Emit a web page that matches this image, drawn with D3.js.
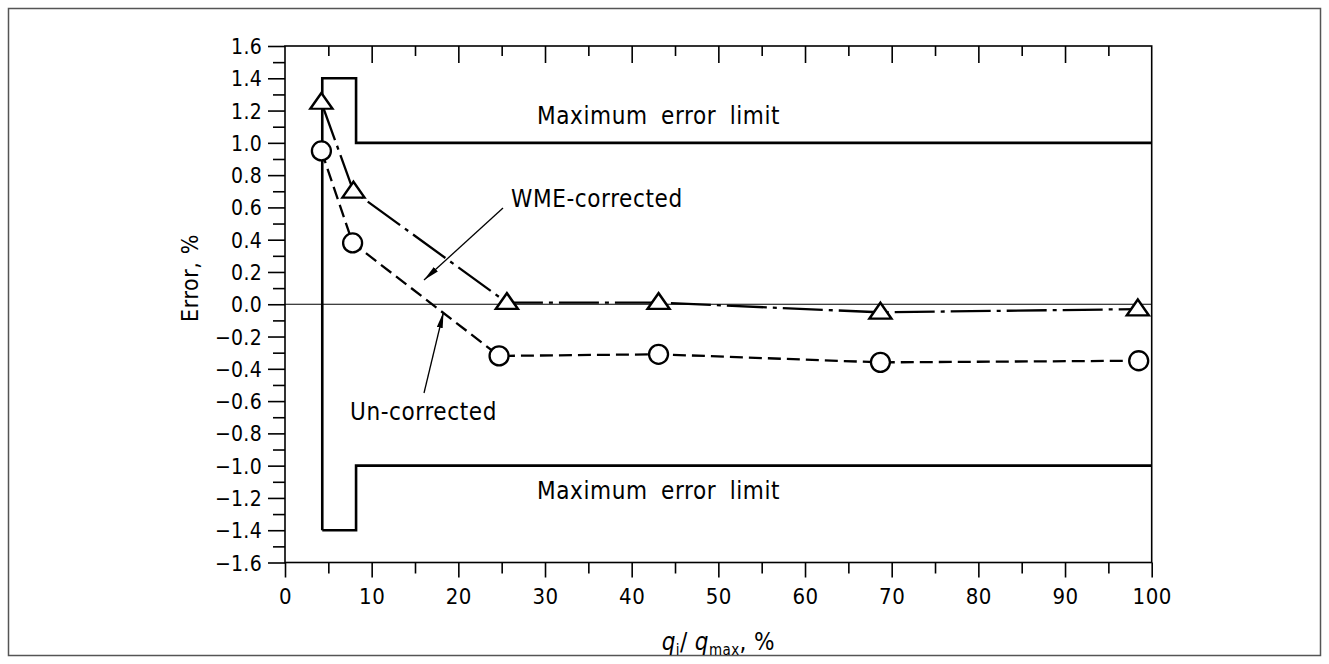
<!DOCTYPE html>
<html><head><meta charset="utf-8">
<script src="https://cdn.jsdelivr.net/npm/d3@7"></script>
<style>
body{margin:0;background:#fff}
svg{display:block}
text{font-family:"DejaVu Sans Condensed","DejaVu Sans",sans-serif;font-stretch:condensed;fill:#000}
</style>
</head><body>
<svg id="c" width="1329" height="664"></svg>
<script>
// ---- data ----
const wmeX = [4.2, 7.9, 25.6, 43.1, 68.7, 98.4];
const wmeY = [1.25, 0.70, 0.01, 0.01, -0.05, -0.03];
const uncX = [4.2, 7.8, 24.7, 43.1, 68.7, 98.5];
const uncY = [0.95, 0.38, -0.32, -0.31, -0.36, -0.35];
const limitUpperX = [4.3, 4.3, 8.2, 8.2, 100];
const limitUpperY = [-1.4, 1.4, 1.4, 1.0, 1.0];
const limitLowerX = [4.3, 8.2, 8.2, 100];
const limitLowerY = [-1.4, -1.4, -1.0, -1.0];
const xTickLabels = [0, 10, 20, 30, 40, 50, 60, 70, 80, 90, 100];
const yTickLabels = [-1.6, -1.4, -1.2, -1.0, -0.8, -0.6, -0.4, -0.2, 0.0, 0.2, 0.4, 0.6, 0.8, 1.0, 1.2, 1.4, 1.6];
const xMinorTicks = d3.range(0, 101, 5);
const yMinorTicks = d3.range(-16, 17, 1).map(d => d / 10);

// ---- layout ----
const svg = d3.select("#c");
const L = 285, R = 1151.7, T = 46, B = 562.5;
const x = d3.scaleLinear().domain([0, 100]).range([L, R]);
const y = d3.scaleLinear().domain([-1.6, 1.6]).range([B, T]);

// outer frame
svg.append("rect").attr("x", 8.5).attr("y", 8.5).attr("width", 1312).attr("height", 647)
  .attr("fill", "none").attr("stroke", "#555").attr("stroke-width", 1.5);

// axes
const gl = svg.append("g").attr("transform", `translate(${L},0)`);
gl.call(d3.axisLeft(y).tickValues(yMinorTicks).tickSize(12).tickFormat(""));
gl.call(g => g.selectAll(".tick").filter(d => Math.abs(Math.round(d * 10)) % 2 === 0).select("line").attr("x2", -17));
gl.selectAll(".domain").remove();
const glab = svg.append("g").attr("transform", `translate(${L},0)`)
  .call(d3.axisLeft(y).tickValues(yTickLabels).tickSize(0).tickPadding(23).tickFormat(d3.format(".1f")));
glab.selectAll(".domain").remove();
glab.selectAll("text").attr("font-size", 21).attr("font-family", null).attr("dy", "0.36em").attr("letter-spacing", 0.3);

const gb = svg.append("g").attr("transform", `translate(0,${B})`);
gb.call(d3.axisBottom(x).tickValues(xMinorTicks).tickSize(11).tickFormat(""));
gb.call(g => g.selectAll(".tick").filter(d => d % 10 === 0).select("line").attr("y2", 15));
gb.selectAll(".domain").remove();
const gblab = svg.append("g").attr("transform", `translate(0,${B})`)
  .call(d3.axisBottom(x).tickValues(xTickLabels).tickSize(0).tickPadding(26).tickFormat(d3.format("d")));
gblab.selectAll(".domain").remove();
gblab.selectAll("text").attr("font-size", 22).attr("font-family", null).attr("letter-spacing", 0.5);

const gt = svg.append("g").attr("transform", `translate(0,${T})`);
gt.call(d3.axisBottom(x).tickValues(xMinorTicks.filter(d => d > 0 && d < 100)).tickSize(10).tickFormat(""));
gt.call(g => g.selectAll(".tick").filter(d => d % 10 === 0).select("line").attr("y2", 17));
gt.selectAll(".domain").remove();

svg.selectAll(".tick line").attr("stroke", "#000").attr("stroke-width", 1.6);

// frame of plot
svg.append("rect").attr("x", L).attr("y", T).attr("width", R - L).attr("height", B - T)
  .attr("fill", "none").attr("stroke", "#000").attr("stroke-width", 1.6);

// zero line
svg.append("line").attr("x1", x(0)).attr("x2", x(100)).attr("y1", y(0)).attr("y2", y(0))
  .attr("stroke", "#000").attr("stroke-width", 1.2);

// limits
const lineGen = d3.line().x(d => x(d[0])).y(d => y(d[1]));
svg.append("path").attr("d", lineGen(d3.zip(limitUpperX, limitUpperY)))
  .attr("fill", "none").attr("stroke", "#000").attr("stroke-width", 2.6);
svg.append("path").attr("d", lineGen(d3.zip(limitLowerX, limitLowerY)))
  .attr("fill", "none").attr("stroke", "#000").attr("stroke-width", 2.6);

// series lines
svg.append("path").attr("d", lineGen(d3.zip(uncX, uncY)))
  .attr("fill", "none").attr("stroke", "#000").attr("stroke-width", 2.3).attr("stroke-dasharray", "13,6");
svg.append("path").attr("d", lineGen(d3.zip(wmeX, wmeY)))
  .attr("fill", "none").attr("stroke", "#000").attr("stroke-width", 2.3).attr("stroke-dasharray", "40,6,4,6");

// markers
svg.selectAll("circle.unc").data(d3.zip(uncX, uncY)).join("circle").attr("class", "unc")
  .attr("cx", d => x(d[0])).attr("cy", d => y(d[1])).attr("r", 9.5)
  .attr("fill", "#fff").attr("stroke", "#000").attr("stroke-width", 2.3);
const tri = d3.symbol().type(d3.symbolTriangle).size(160);
svg.selectAll("path.wme").data(d3.zip(wmeX, wmeY)).join("path").attr("class", "wme")
  .attr("d", tri).attr("transform", d => `translate(${x(d[0])},${y(d[1]) + 1}) scale(1.15,0.95)`)
  .attr("fill", "#fff").attr("stroke", "#000").attr("stroke-width", 2.3);

// annotations
svg.append("defs").append("marker").attr("id", "ah").attr("viewBox", "0 0 16 6")
  .attr("refX", 16).attr("refY", 3).attr("markerWidth", 16).attr("markerHeight", 6)
  .attr("markerUnits", "userSpaceOnUse").attr("orient", "auto")
  .append("path").attr("d", "M0,0 L16,3 L0,6 Z").attr("fill", "#000");

svg.append("line").attr("x1", 503).attr("y1", 208).attr("x2", 424).attr("y2", 280)
  .attr("stroke", "#000").attr("stroke-width", 1.3).attr("marker-end", "url(#ah)");
svg.append("line").attr("x1", 424).attr("y1", 393).attr("x2", 443.5).attr("y2", 312)
  .attr("stroke", "#000").attr("stroke-width", 1.3).attr("marker-end", "url(#ah)");

const ann = (tx, ty, s) => svg.append("text").attr("x", tx).attr("y", ty).attr("font-size", 24)
  .attr("letter-spacing", 0.6).attr("word-spacing", 6).text(s);
ann(511, 207, "WME-corrected");
ann(350, 420, "Un-corrected");
ann(537, 124, "Maximum error limit");
ann(537, 499, "Maximum error limit");

// axis titles
svg.append("text").attr("transform", "translate(198,278) rotate(-90)").attr("text-anchor", "middle")
  .attr("font-size", 23).attr("letter-spacing", 0.6).text("Error, %");
const xl = svg.append("text").attr("x", (L + R) / 2).attr("y", 650).attr("text-anchor", "middle").attr("font-size", 24).attr("letter-spacing", 0.4);
xl.append("tspan").attr("font-style", "italic").text("q");
xl.append("tspan").attr("font-size", 15).attr("dy", 5).text("i");
xl.append("tspan").attr("dy", -5).text("/ ");
xl.append("tspan").attr("font-style", "italic").text("q");
xl.append("tspan").attr("font-size", 15).attr("dy", 5).text("max");
xl.append("tspan").attr("dy", -5).text(", %");
</script>
</body></html>
